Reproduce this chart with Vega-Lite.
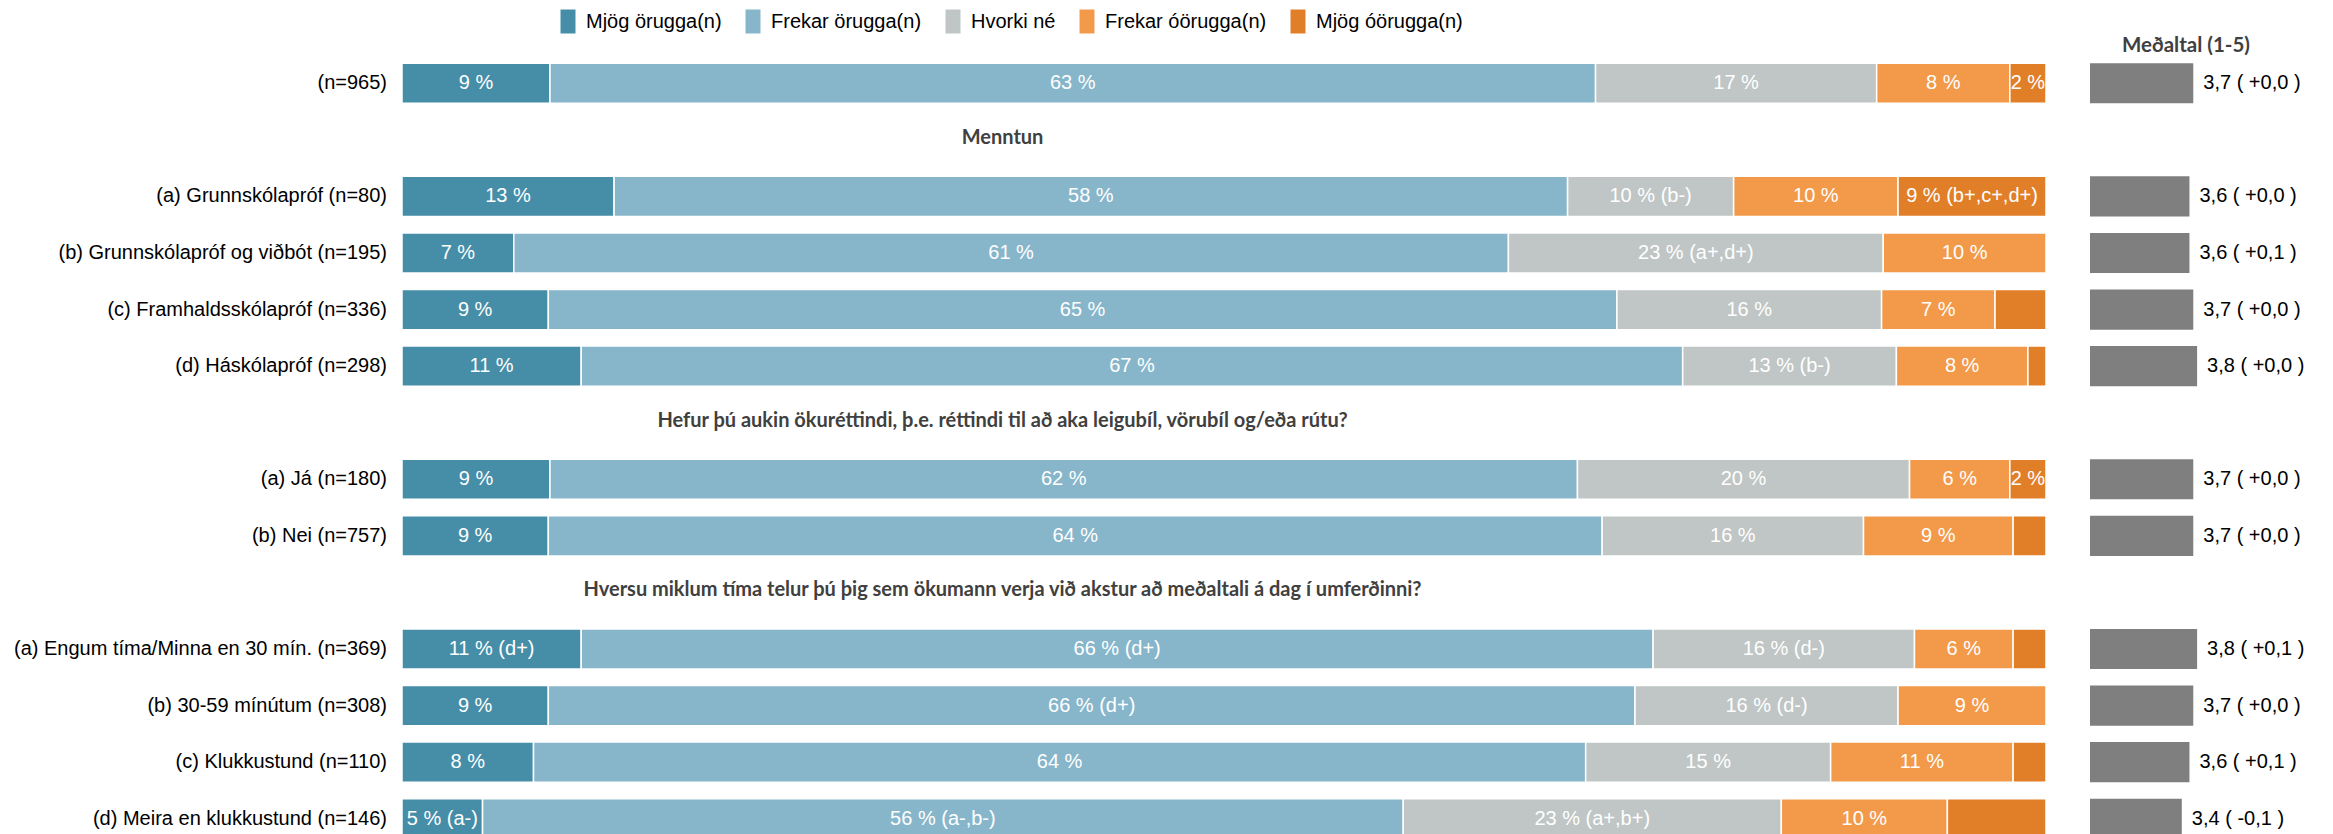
{
  "$schema": "https://vega.github.io/schema/vega-lite/v6.json",
  "background": "white",
  "padding": {"left": 13, "top": 9, "right": 5, "bottom": 0},
  "bounds": "flush",
  "spacing": 44,
  "config": {"view": {"stroke": null}, "font": "Liberation Sans"},
  "datasets": {
    "main": [
      {"row": "(n=965)", "cat": "Mjög örugga(n)", "k": 1, "pct": 9.0, "label": "9 %"},
      {"row": "(n=965)", "cat": "Frekar örugga(n)", "k": 2, "pct": 63.6, "label": "63 %"},
      {"row": "(n=965)", "cat": "Hvorki né", "k": 3, "pct": 17.1, "label": "17 %"},
      {"row": "(n=965)", "cat": "Frekar óörugga(n)", "k": 4, "pct": 8.1, "label": "8 %"},
      {"row": "(n=965)", "cat": "Mjög óörugga(n)", "k": 5, "pct": 2.2, "label": "2 %"},
      {"row": "(a) Grunnskólapróf (n=80)", "cat": "Mjög örugga(n)", "k": 1, "pct": 12.9, "label": "13 %"},
      {"row": "(a) Grunnskólapróf (n=80)", "cat": "Frekar örugga(n)", "k": 2, "pct": 58.0, "label": "58 %"},
      {"row": "(a) Grunnskólapróf (n=80)", "cat": "Hvorki né", "k": 3, "pct": 10.1, "label": "10 % (b-)"},
      {"row": "(a) Grunnskólapróf (n=80)", "cat": "Frekar óörugga(n)", "k": 4, "pct": 10.0, "label": "10 %"},
      {"row": "(a) Grunnskólapróf (n=80)", "cat": "Mjög óörugga(n)", "k": 5, "pct": 9.0, "label": "9 % (b+,c+,d+)"},
      {"row": "(b) Grunnskólapróf og viðbót (n=195)", "cat": "Mjög örugga(n)", "k": 1, "pct": 6.8, "label": "7 %"},
      {"row": "(b) Grunnskólapróf og viðbót (n=195)", "cat": "Frekar örugga(n)", "k": 2, "pct": 60.5, "label": "61 %"},
      {"row": "(b) Grunnskólapróf og viðbót (n=195)", "cat": "Hvorki né", "k": 3, "pct": 22.8, "label": "23 % (a+,d+)"},
      {"row": "(b) Grunnskólapróf og viðbót (n=195)", "cat": "Frekar óörugga(n)", "k": 4, "pct": 9.9, "label": "10 %"},
      {"row": "(c) Framhaldsskólapróf (n=336)", "cat": "Mjög örugga(n)", "k": 1, "pct": 8.9, "label": "9 %"},
      {"row": "(c) Framhaldsskólapróf (n=336)", "cat": "Frekar örugga(n)", "k": 2, "pct": 65.0, "label": "65 %"},
      {"row": "(c) Framhaldsskólapróf (n=336)", "cat": "Hvorki né", "k": 3, "pct": 16.1, "label": "16 %"},
      {"row": "(c) Framhaldsskólapróf (n=336)", "cat": "Frekar óörugga(n)", "k": 4, "pct": 6.9, "label": "7 %"},
      {"row": "(c) Framhaldsskólapróf (n=336)", "cat": "Mjög óörugga(n)", "k": 5, "pct": 3.1, "label": ""},
      {"row": "(d) Háskólapróf (n=298)", "cat": "Mjög örugga(n)", "k": 1, "pct": 10.9, "label": "11 %"},
      {"row": "(d) Háskólapróf (n=298)", "cat": "Frekar örugga(n)", "k": 2, "pct": 67.0, "label": "67 %"},
      {"row": "(d) Háskólapróf (n=298)", "cat": "Hvorki né", "k": 3, "pct": 13.0, "label": "13 % (b-)"},
      {"row": "(d) Háskólapróf (n=298)", "cat": "Frekar óörugga(n)", "k": 4, "pct": 8.0, "label": "8 %"},
      {"row": "(d) Háskólapróf (n=298)", "cat": "Mjög óörugga(n)", "k": 5, "pct": 1.1, "label": ""},
      {"row": "(a) Já (n=180)", "cat": "Mjög örugga(n)", "k": 1, "pct": 9.0, "label": "9 %"},
      {"row": "(a) Já (n=180)", "cat": "Frekar örugga(n)", "k": 2, "pct": 62.5, "label": "62 %"},
      {"row": "(a) Já (n=180)", "cat": "Hvorki né", "k": 3, "pct": 20.2, "label": "20 %"},
      {"row": "(a) Já (n=180)", "cat": "Frekar óörugga(n)", "k": 4, "pct": 6.1, "label": "6 %"},
      {"row": "(a) Já (n=180)", "cat": "Mjög óörugga(n)", "k": 5, "pct": 2.2, "label": "2 %"},
      {"row": "(b) Nei (n=757)", "cat": "Mjög örugga(n)", "k": 1, "pct": 8.9, "label": "9 %"},
      {"row": "(b) Nei (n=757)", "cat": "Frekar örugga(n)", "k": 2, "pct": 64.1, "label": "64 %"},
      {"row": "(b) Nei (n=757)", "cat": "Hvorki né", "k": 3, "pct": 15.9, "label": "16 %"},
      {"row": "(b) Nei (n=757)", "cat": "Frekar óörugga(n)", "k": 4, "pct": 9.1, "label": "9 %"},
      {"row": "(b) Nei (n=757)", "cat": "Mjög óörugga(n)", "k": 5, "pct": 2.0, "label": ""},
      {"row": "(a) Engum tíma/Minna en 30 mín. (n=369)", "cat": "Mjög örugga(n)", "k": 1, "pct": 10.9, "label": "11 % (d+)"},
      {"row": "(a) Engum tíma/Minna en 30 mín. (n=369)", "cat": "Frekar örugga(n)", "k": 2, "pct": 65.2, "label": "66 % (d+)"},
      {"row": "(a) Engum tíma/Minna en 30 mín. (n=369)", "cat": "Hvorki né", "k": 3, "pct": 15.9, "label": "16 % (d-)"},
      {"row": "(a) Engum tíma/Minna en 30 mín. (n=369)", "cat": "Frekar óörugga(n)", "k": 4, "pct": 6.0, "label": "6 %"},
      {"row": "(a) Engum tíma/Minna en 30 mín. (n=369)", "cat": "Mjög óörugga(n)", "k": 5, "pct": 2.0, "label": ""},
      {"row": "(b) 30-59 mínútum (n=308)", "cat": "Mjög örugga(n)", "k": 1, "pct": 8.9, "label": "9 %"},
      {"row": "(b) 30-59 mínútum (n=308)", "cat": "Frekar örugga(n)", "k": 2, "pct": 66.1, "label": "66 % (d+)"},
      {"row": "(b) 30-59 mínútum (n=308)", "cat": "Hvorki né", "k": 3, "pct": 16.0, "label": "16 % (d-)"},
      {"row": "(b) 30-59 mínútum (n=308)", "cat": "Frekar óörugga(n)", "k": 4, "pct": 9.0, "label": "9 %"},
      {"row": "(c) Klukkustund (n=110)", "cat": "Mjög örugga(n)", "k": 1, "pct": 8.0, "label": "8 %"},
      {"row": "(c) Klukkustund (n=110)", "cat": "Frekar örugga(n)", "k": 2, "pct": 64.0, "label": "64 %"},
      {"row": "(c) Klukkustund (n=110)", "cat": "Hvorki né", "k": 3, "pct": 14.9, "label": "15 %"},
      {"row": "(c) Klukkustund (n=110)", "cat": "Frekar óörugga(n)", "k": 4, "pct": 11.1, "label": "11 %"},
      {"row": "(c) Klukkustund (n=110)", "cat": "Mjög óörugga(n)", "k": 5, "pct": 2.0, "label": ""},
      {"row": "(d) Meira en klukkustund (n=146)", "cat": "Mjög örugga(n)", "k": 1, "pct": 4.9, "label": "5 % (a-)"},
      {"row": "(d) Meira en klukkustund (n=146)", "cat": "Frekar örugga(n)", "k": 2, "pct": 56.0, "label": "56 % (a-,b-)"},
      {"row": "(d) Meira en klukkustund (n=146)", "cat": "Hvorki né", "k": 3, "pct": 23.0, "label": "23 % (a+,b+)"},
      {"row": "(d) Meira en klukkustund (n=146)", "cat": "Frekar óörugga(n)", "k": 4, "pct": 10.1, "label": "10 %"},
      {"row": "(d) Meira en klukkustund (n=146)", "cat": "Mjög óörugga(n)", "k": 5, "pct": 6.0, "label": ""}
    ],
    "heads": [
      {"row": " ", "htext": "Menntun"},
      {"row": "  ", "htext": "Hefur þú aukin ökuréttindi, þ.e. réttindi til að aka leigubíl, vörubíl og/eða rútu?"},
      {"row": "   ", "htext": "Hversu miklum tíma telur þú þig sem ökumann verja við akstur að meðaltali á dag í umferðinni?"}
    ],
    "means": [
      {"row": "(n=965)", "mean": 3.7, "mtext": "3,7 ( +0,0 )"},
      {"row": "(a) Grunnskólapróf (n=80)", "mean": 3.6, "mtext": "3,6 ( +0,0 )"},
      {"row": "(b) Grunnskólapróf og viðbót (n=195)", "mean": 3.6, "mtext": "3,6 ( +0,1 )"},
      {"row": "(c) Framhaldsskólapróf (n=336)", "mean": 3.7, "mtext": "3,7 ( +0,0 )"},
      {"row": "(d) Háskólapróf (n=298)", "mean": 3.8, "mtext": "3,8 ( +0,0 )"},
      {"row": "(a) Já (n=180)", "mean": 3.7, "mtext": "3,7 ( +0,0 )"},
      {"row": "(b) Nei (n=757)", "mean": 3.7, "mtext": "3,7 ( +0,0 )"},
      {"row": "(a) Engum tíma/Minna en 30 mín. (n=369)", "mean": 3.8, "mtext": "3,8 ( +0,1 )"},
      {"row": "(b) 30-59 mínútum (n=308)", "mean": 3.7, "mtext": "3,7 ( +0,0 )"},
      {"row": "(c) Klukkustund (n=110)", "mean": 3.6, "mtext": "3,6 ( +0,1 )"},
      {"row": "(d) Meira en klukkustund (n=146)", "mean": 3.4, "mtext": "3,4 ( -0,1 )"}
    ]
  },
  "hconcat": [
    {
      "width": 1644,
      "height": 792,
      "layer": [
        {
          "data": {"name": "main"},
          "transform": [{"stack": "pct", "groupby": ["row"], "sort": [{"field": "k", "order": "ascending"}], "as": ["x0", "x1"]}],
          "layer": [
            {
              "mark": {"type": "bar", "stroke": "white", "strokeWidth": 1.5},
              "encoding": {
                "y": {
                  "field": "row", "type": "nominal",
                  "scale": {"domain": ["(n=965)", " ", "(a) Grunnskólapróf (n=80)", "(b) Grunnskólapróf og viðbót (n=195)", "(c) Framhaldsskólapróf (n=336)", "(d) Háskólapróf (n=298)", "  ", "(a) Já (n=180)", "(b) Nei (n=757)", "   ", "(a) Engum tíma/Minna en 30 mín. (n=369)", "(b) 30-59 mínútum (n=308)", "(c) Klukkustund (n=110)", "(d) Meira en klukkustund (n=146)"], "paddingInner": 0.29, "paddingOuter": 0.145},
                  "axis": {"title": null, "ticks": false, "tickSize": 0, "domain": false, "labelFont": "Liberation Sans", "labelFontSize": 20, "labelColor": "#000000", "labelPadding": 15.5, "labelLimit": 600}
                },
                "x": {"field": "x0", "type": "quantitative", "scale": {"domain": [0, 100], "nice": false}, "axis": null},
                "x2": {"field": "x1"},
                "color": {
                  "field": "cat", "type": "nominal",
                  "scale": {"domain": ["Mjög örugga(n)", "Frekar örugga(n)", "Hvorki né", "Frekar óörugga(n)", "Mjög óörugga(n)"], "range": ["#468EA8", "#87B6CB", "#BFC6C5", "#F29A4A", "#E17E28"]},
                  "legend": {"orient": "none", "legendX": 154, "legendY": -45.5, "direction": "horizontal", "title": null, "symbolType": "M-0.625,-1H0.625V1H-0.625Z", "symbolSize": 576, "symbolStrokeWidth": 0, "symbolOpacity": 1, "labelFont": "Liberation Sans", "labelFontSize": 20, "labelColor": "#000000", "labelOffset": 6, "labelLimit": 400, "columnPadding": 19, "padding": 0}
                }
              }
            },
            {
              "transform": [
                {"fold": ["x0", "x1"], "as": ["edge", "xe"]},
                {"aggregate": [{"op": "mean", "field": "xe", "as": "mid"}], "groupby": ["row", "cat", "label"]}
              ],
              "mark": {"type": "text", "color": "white", "font": "Liberation Sans", "fontSize": 20, "align": "center", "baseline": "middle"},
              "encoding": {
                "y": {"field": "row", "type": "nominal"},
                "x": {"field": "mid", "type": "quantitative"},
                "text": {"field": "label"}
              }
            }
          ]
        },
        {
          "data": {"name": "heads"},
          "mark": {"type": "text", "font": "Lato", "fontWeight": "bold", "fontSize": 20, "color": "#404040", "align": "center", "baseline": "middle", "dy": -2},
          "encoding": {
            "y": {"field": "row", "type": "nominal"},
            "x": {"datum": 36.53, "type": "quantitative"},
            "text": {"field": "htext"}
          }
        }
      ]
    },
    {
      "width": 153,
      "height": 792,
      "title": {"text": "Meðaltal (1-5)", "anchor": "start", "dx": 32, "offset": -1.5, "font": "Lato", "fontWeight": "bold", "fontSize": 20.5, "color": "#404040"},
      "data": {"name": "means"},
      "encoding": {
        "y": {
          "field": "row", "type": "nominal",
          "scale": {"domain": ["(n=965)", " ", "(a) Grunnskólapróf (n=80)", "(b) Grunnskólapróf og viðbót (n=195)", "(c) Framhaldsskólapróf (n=336)", "(d) Háskólapróf (n=298)", "  ", "(a) Já (n=180)", "(b) Nei (n=757)", "   ", "(a) Engum tíma/Minna en 30 mín. (n=369)", "(b) 30-59 mínútum (n=308)", "(c) Klukkustund (n=110)", "(d) Meira en klukkustund (n=146)"], "paddingInner": 0.29, "paddingOuter": 0.145},
          "axis": null
        }
      },
      "layer": [
        {
          "mark": {"type": "bar", "color": "#7F7F7F"},
          "encoding": {
            "x": {"field": "mean", "type": "quantitative", "scale": {"domain": [1, 5], "nice": false, "zero": false}, "axis": null},
            "x2": {"datum": 1}
          }
        },
        {
          "mark": {"type": "text", "align": "left", "baseline": "middle", "dx": 10, "font": "Liberation Sans", "fontSize": 20, "color": "#000000"},
          "encoding": {
            "x": {"field": "mean", "type": "quantitative"},
            "text": {"field": "mtext"}
          }
        }
      ]
    }
  ]
}
